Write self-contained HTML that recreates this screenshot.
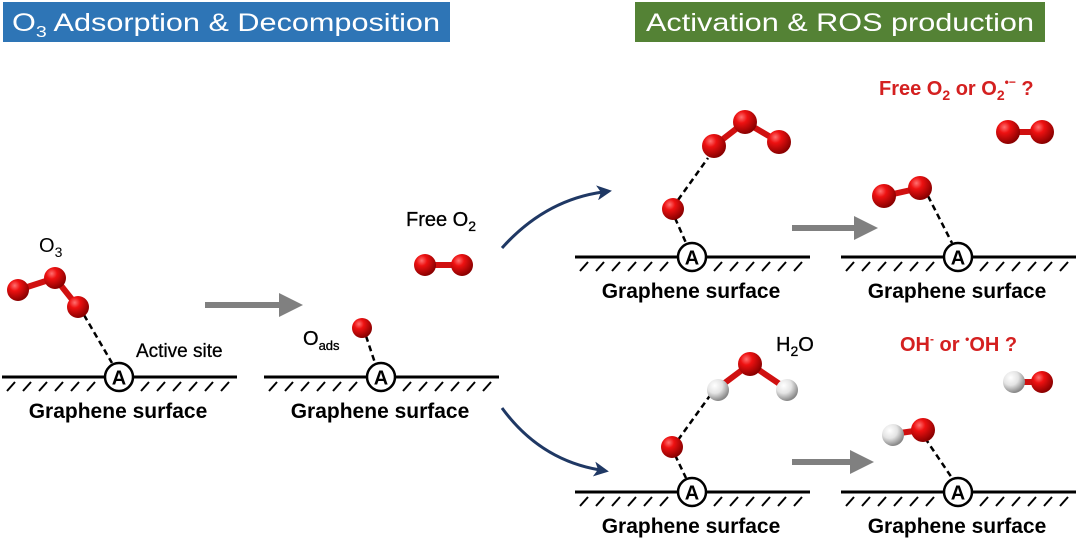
<!DOCTYPE html>
<html><head><meta charset="utf-8"><style>
html,body{margin:0;padding:0;background:#fff;}
svg{display:block;font-family:"Liberation Sans",Arial,sans-serif;}
</style></head><body>
<svg width="1080" height="540" viewBox="0 0 1080 540" xmlns="http://www.w3.org/2000/svg">
<defs>
<radialGradient id="r" cx="35%" cy="30%" r="70%"><stop offset="0" stop-color="#ff7070"/><stop offset="0.35" stop-color="#ee1111"/><stop offset="1" stop-color="#8a0000"/></radialGradient>
<radialGradient id="w" cx="35%" cy="30%" r="70%"><stop offset="0" stop-color="#ffffff"/><stop offset="0.5" stop-color="#e4e4e4"/><stop offset="1" stop-color="#888"/></radialGradient>
<marker id="ga" markerWidth="4" markerHeight="4" refX="1" refY="2" orient="auto"><path d="M0,0 L4,2 L0,4z" fill="#808080"/></marker>
<marker id="ba" markerWidth="5" markerHeight="5" refX="2" refY="2.5" orient="auto"><path d="M0,0 L5,2.5 L0,5 L1.3,2.5z" fill="#1f3864"/></marker>
<g id="surf">
 <line x1="-117" y1="0" x2="118" y2="0" stroke="#000" stroke-width="3"/>
 <g stroke="#000" stroke-width="2">
  <line x1="-112" y1="14" x2="-104" y2="5"/><line x1="-96" y1="14" x2="-88" y2="5"/><line x1="-80" y1="14" x2="-72" y2="5"/><line x1="-64" y1="14" x2="-56" y2="5"/><line x1="-48" y1="14" x2="-40" y2="5"/><line x1="-32" y1="14" x2="-24" y2="5"/>
  <line x1="22" y1="14" x2="30" y2="5"/><line x1="38" y1="14" x2="46" y2="5"/><line x1="54" y1="14" x2="62" y2="5"/><line x1="70" y1="14" x2="78" y2="5"/><line x1="86" y1="14" x2="94" y2="5"/><line x1="102" y1="14" x2="110" y2="5"/>
 </g>
 <circle cx="0" cy="0" r="14" fill="#fff" stroke="#000" stroke-width="2.5"/>
 <text x="0" y="7.5" text-anchor="middle" font-size="20" font-weight="bold">A</text>
 <text x="-1" y="41" text-anchor="middle" font-size="21" font-weight="bold">Graphene surface</text>
</g>
</defs>

<rect x="3" y="2" width="447" height="40" fill="#2e75b6"/>
<text x="12" y="31" font-size="25" fill="#fff" textLength="428" lengthAdjust="spacingAndGlyphs">O<tspan font-size="16" dy="6">3</tspan><tspan dy="-6"> Adsorption &amp; Decomposition</tspan></text>
<rect x="635" y="2" width="410" height="40" fill="#548235"/>
<text x="646" y="31" font-size="25" fill="#fff" textLength="388" lengthAdjust="spacingAndGlyphs">Activation &amp; ROS production</text>

<use href="#surf" x="119" y="377"/>
<use href="#surf" x="381" y="377"/>
<use href="#surf" x="692" y="257"/>
<use href="#surf" x="958" y="257"/>
<use href="#surf" x="692" y="492"/>
<use href="#surf" x="958" y="492"/>

<g stroke="#000" stroke-width="2.5" stroke-dasharray="6,4" fill="none">
<line x1="84" y1="315" x2="112" y2="363"/>
<line x1="366" y1="336" x2="375" y2="363"/>
<line x1="675" y1="218" x2="686" y2="243"/>
<line x1="678" y1="200" x2="708" y2="158"/>
<line x1="928" y1="196" x2="952" y2="243"/>
<line x1="675" y1="455" x2="686" y2="478"/>
<line x1="678" y1="440" x2="714" y2="390"/>
<line x1="925" y1="438" x2="952" y2="478"/>
</g>

<g stroke-width="6" stroke-linecap="round">
<line x1="18" y1="290" x2="55" y2="278" stroke="#d01010"/>
<line x1="55" y1="278" x2="78" y2="307" stroke="#d01010"/>
<line x1="424" y1="265" x2="462" y2="265" stroke="#d01010"/>
<line x1="714" y1="146" x2="745" y2="122" stroke="#d01010"/>
<line x1="745" y1="122" x2="779" y2="142" stroke="#d01010"/>
<line x1="884" y1="196" x2="920" y2="188" stroke="#d01010"/>
<line x1="1008" y1="132" x2="1042" y2="132" stroke="#d01010"/>
<line x1="718" y1="388" x2="750" y2="364" stroke="#d01010"/>
<line x1="750" y1="364" x2="787" y2="389" stroke="#d01010"/>
<line x1="1015" y1="382" x2="1041" y2="382" stroke="#d01010"/>
<line x1="893" y1="434" x2="921" y2="430" stroke="#d01010"/>
</g>

<g fill="url(#r)">
<circle cx="18" cy="290" r="11"/><circle cx="55" cy="278" r="11"/><circle cx="78" cy="307" r="11"/>
<circle cx="362" cy="328" r="10"/>
<circle cx="425" cy="265" r="11"/><circle cx="462" cy="265" r="11"/>
<circle cx="673" cy="209" r="11"/>
<circle cx="714" cy="146" r="12"/><circle cx="745" cy="122" r="12"/><circle cx="779" cy="142" r="12"/>
<circle cx="884" cy="196" r="12"/><circle cx="920" cy="188" r="12"/>
<circle cx="1008" cy="132" r="12"/><circle cx="1042" cy="132" r="12"/>
<circle cx="672" cy="447" r="11"/>
<circle cx="750" cy="364" r="12"/>
</g>
<g fill="url(#w)">
<circle cx="718" cy="390" r="11"/><circle cx="787" cy="390" r="11"/>
<circle cx="893" cy="435" r="11"/>
<circle cx="1014" cy="382" r="11"/>
</g>
<g fill="url(#r)">
<circle cx="923" cy="430" r="12"/>
<circle cx="1042" cy="382" r="11"/>
</g>

<g font-size="20" fill="#000" font-weight="bold">
<text x="39" y="252" font-weight="normal">O<tspan font-size="14" dy="5">3</tspan></text>
<text x="136" y="357" font-size="19" font-weight="normal" stroke="#000" stroke-width="0.3">Active site</text>
<text x="303" y="345" font-weight="normal" stroke="#000" stroke-width="0.3">O<tspan font-size="13" dy="5">ads</tspan></text>
<text x="406" y="226" font-weight="normal" stroke="#000" stroke-width="0.3">Free O<tspan font-size="14" dy="5">2</tspan></text>
<text x="776" y="351" font-weight="normal" stroke="#000" stroke-width="0.3">H<tspan font-size="14" dy="5">2</tspan><tspan dy="-5">O</tspan></text>
</g>
<g font-size="20" font-weight="bold" fill="#d42020">
<text x="879" y="95">Free O<tspan font-size="14" dy="5">2</tspan><tspan dy="-5"> or O</tspan><tspan font-size="14" dy="5">2</tspan><tspan font-size="12" dy="-14">•−</tspan><tspan dy="9"> ?</tspan></text>
<text x="900" y="351">OH<tspan font-size="12" dy="-8">-</tspan><tspan dy="8"> or </tspan><tspan font-size="12" dy="-8">•</tspan><tspan dy="8">OH ?</tspan></text>
</g>

<g stroke="#808080" stroke-width="6">
<line x1="205" y1="305" x2="285" y2="305" marker-end="url(#ga)"/>
<line x1="792" y1="228" x2="860" y2="228" marker-end="url(#ga)"/>
<line x1="792" y1="462" x2="856" y2="462" marker-end="url(#ga)"/>
</g>
<g stroke="#1f3864" stroke-width="3" fill="none">
<path d="M502,248 Q545,200 603,192" marker-end="url(#ba)"/>
<path d="M502,408 Q540,460 600,470" marker-end="url(#ba)"/>
</g>
</svg>
</body></html>
